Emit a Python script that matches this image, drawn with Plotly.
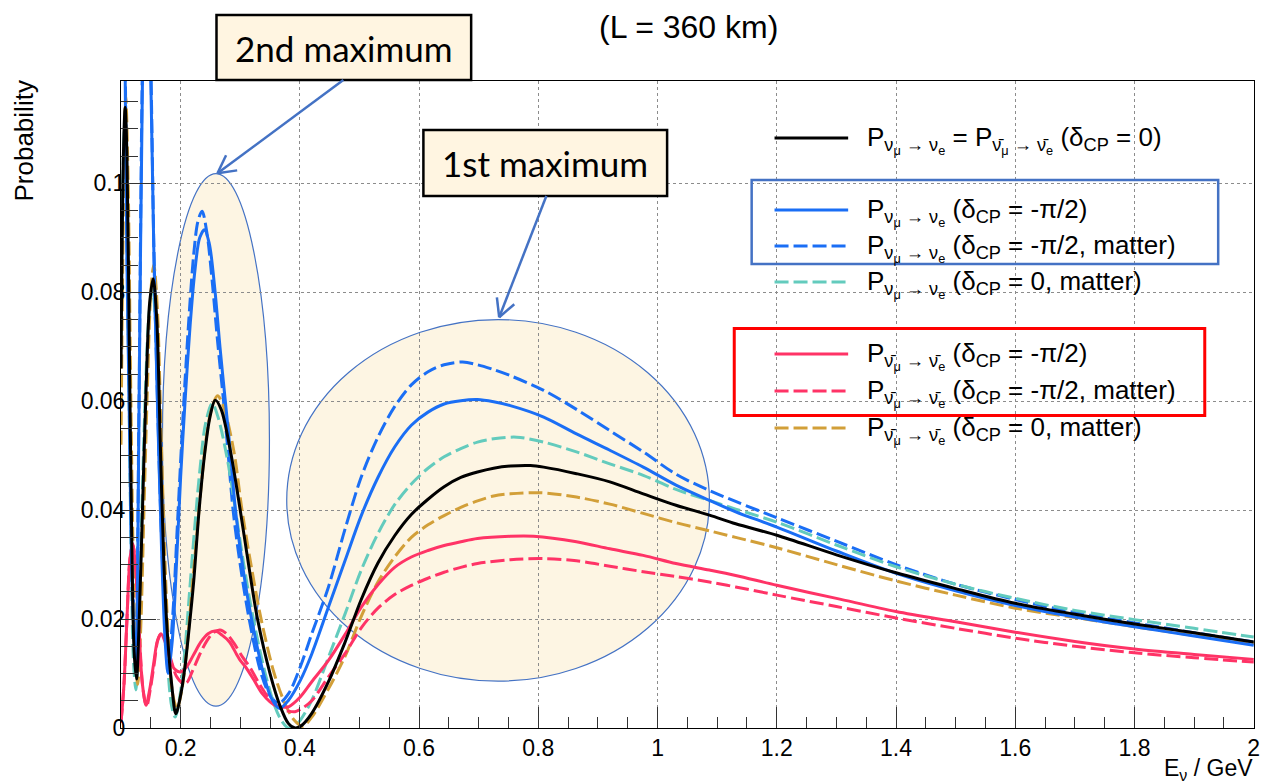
import math
import plotly.graph_objects as go

# ---------------- data ----------------
E_blk = [0.100,0.104,0.107,0.110,0.114,0.118,0.122,0.126,0.130,0.136,0.142,0.148,0.154,0.160,0.166,0.172,0.178,0.185,0.192,0.200,0.207,0.214,0.222,0.231,0.240,0.249,0.258,0.268,0.285,0.300,0.314,0.329,0.350,0.367,0.381,0.392,0.401,0.420,0.448,0.476,0.503,0.531,0.559,0.587,0.615,0.642,0.670,0.698,0.725,0.753,0.787,0.809,0.864,0.920,0.976,1.031,1.087,1.131,1.2,1.3,1.4,1.5,1.6,1.7,1.8,1.9,2.0]
P_blk = [0.066,0.105,0.114,0.105,0.070,0.035,0.014,0.009,0.018,0.040,0.062,0.078,0.0825,0.075,0.052,0.030,0.017,0.008,0.0026,0.006,0.011,0.018,0.027,0.040,0.050,0.057,0.0602,0.0585,0.050,0.040,0.030,0.020,0.010,0.004,0.0008,0.0,0.0003,0.0027,0.0085,0.0158,0.0236,0.0303,0.0353,0.0392,0.0420,0.0443,0.0460,0.0470,0.0477,0.0481,0.0482,0.0479,0.0467,0.0452,0.0430,0.0409,0.0391,0.0375,0.0354,0.0318,0.0285,0.0256,0.0229,0.0209,0.0191,0.0175,0.0158]

E_bls = [0.100,0.104,0.107,0.110,0.114,0.119,0.125,0.130,0.136,0.143,0.150,0.155,0.161,0.168,0.174,0.179,0.186,0.193,0.200,0.208,0.216,0.224,0.232,0.240,0.248,0.257,0.266,0.275,0.284,0.292,0.305,0.319,0.339,0.352,0.366,0.381,0.4006,0.420,0.448,0.476,0.503,0.531,0.559,0.587,0.615,0.642,0.670,0.698,0.725,0.753,0.809,0.864,0.920,0.976,1.031,1.087,1.131,1.2,1.3,1.4,1.5,1.6,1.7,1.8,1.9,2.0]
P_bls = [0.200,0.170,0.120,0.085,0.057,0.025,0.012,0.055,0.119,0.150,0.119,0.088,0.060,0.033,0.016,0.010,0.016,0.030,0.046,0.061,0.074,0.084,0.090,0.0915,0.089,0.081,0.070,0.060,0.050,0.040,0.029,0.020,0.010,0.0055,0.0036,0.0051,0.0087,0.0136,0.0222,0.0308,0.0390,0.0460,0.0516,0.0556,0.0580,0.0595,0.0601,0.0603,0.0599,0.0592,0.0571,0.0540,0.0510,0.0479,0.0446,0.0418,0.0397,0.0369,0.0325,0.0284,0.0252,0.0225,0.0204,0.0186,0.0169,0.0152]

E_bld = [0.100,0.104,0.107,0.110,0.114,0.119,0.125,0.130,0.136,0.143,0.150,0.155,0.161,0.168,0.175,0.181,0.187,0.194,0.201,0.207,0.215,0.222,0.229,0.236,0.244,0.253,0.262,0.272,0.280,0.288,0.300,0.315,0.335,0.350,0.3645,0.381,0.4006,0.420,0.448,0.476,0.503,0.531,0.559,0.587,0.615,0.642,0.673,0.698,0.725,0.753,0.809,0.864,0.920,0.976,1.031,1.087,1.131,1.2,1.3,1.4,1.5,1.6,1.7,1.8,1.9,2.0]
P_bld = [0.205,0.175,0.125,0.090,0.060,0.028,0.015,0.058,0.122,0.155,0.122,0.089,0.061,0.035,0.019,0.014,0.021,0.036,0.051,0.063,0.077,0.087,0.093,0.0949,0.091,0.082,0.071,0.060,0.050,0.040,0.030,0.020,0.010,0.0060,0.0045,0.0063,0.0112,0.0173,0.0259,0.0366,0.0461,0.0534,0.0590,0.0630,0.0654,0.0667,0.0672,0.0667,0.0658,0.0647,0.0620,0.0585,0.0546,0.0507,0.0466,0.0436,0.0416,0.0386,0.0343,0.0300,0.0264,0.0236,0.0212,0.0193,0.0175,0.0158]

E_cyn = [0.100,0.103,0.106,0.109,0.113,0.117,0.121,0.125,0.129,0.135,0.141,0.147,0.153,0.159,0.165,0.171,0.178,0.185,0.191,0.199,0.207,0.215,0.223,0.232,0.242,0.253,0.263,0.279,0.292,0.306,0.322,0.342,0.358,0.370,0.381,0.392,0.4006,0.420,0.448,0.476,0.503,0.531,0.559,0.587,0.615,0.642,0.670,0.698,0.725,0.764,0.809,0.864,0.920,0.976,1.031,1.087,1.131,1.2,1.3,1.4,1.5,1.6,1.7,1.8,1.9,2.0]
P_cyn = [0.072,0.100,0.110,0.100,0.065,0.032,0.012,0.007,0.016,0.040,0.062,0.076,0.0805,0.072,0.050,0.028,0.012,0.004,0.0020,0.006,0.014,0.025,0.036,0.047,0.056,0.0596,0.057,0.049,0.040,0.030,0.020,0.010,0.004,0.0012,0.0,0.0004,0.0014,0.0051,0.0130,0.0210,0.0290,0.0357,0.0410,0.0448,0.0477,0.0498,0.0513,0.0525,0.0531,0.0534,0.0525,0.0507,0.0485,0.0464,0.0438,0.0418,0.0402,0.0378,0.0336,0.0296,0.0264,0.0238,0.0216,0.0199,0.0183,0.0167]

E_pks = [0.100,0.105,0.110,0.115,0.1195,0.124,0.130,0.136,0.142,0.148,0.155,0.161,0.167,0.174,0.181,0.190,0.200,0.210,0.222,0.234,0.246,0.258,0.270,0.282,0.294,0.300,0.309,0.323,0.337,0.350,0.361,0.372,0.381,0.4006,0.420,0.448,0.476,0.503,0.531,0.559,0.587,0.615,0.642,0.670,0.698,0.753,0.792,0.864,0.920,0.976,1.031,1.087,1.131,1.2,1.3,1.4,1.5,1.6,1.7,1.8,1.9,2.0]
P_pks = [0.001,0.008,0.020,0.031,0.0339,0.030,0.018,0.008,0.0042,0.007,0.012,0.016,0.0173,0.0158,0.0130,0.0108,0.0103,0.0112,0.0135,0.0158,0.0173,0.0178,0.0170,0.0158,0.0135,0.0124,0.0112,0.0088,0.0063,0.0048,0.0040,0.0038,0.0039,0.0057,0.0085,0.0124,0.0172,0.0222,0.0263,0.0295,0.0314,0.0326,0.0335,0.0342,0.0348,0.0352,0.0352,0.0342,0.0329,0.0317,0.0302,0.0290,0.0280,0.0262,0.0238,0.0214,0.0195,0.0176,0.0159,0.0145,0.0135,0.0126]

E_pkd = [0.100,0.105,0.110,0.115,0.120,0.125,0.131,0.137,0.143,0.149,0.156,0.162,0.169,0.176,0.184,0.193,0.203,0.210,0.220,0.232,0.244,0.255,0.266,0.278,0.290,0.304,0.316,0.331,0.346,0.360,0.372,0.381,0.392,0.4006,0.420,0.448,0.476,0.503,0.531,0.559,0.587,0.615,0.642,0.670,0.698,0.753,0.809,0.864,0.920,0.976,1.031,1.087,1.131,1.2,1.3,1.4,1.5,1.6,1.7,1.8,1.9,2.0]
P_pkd = [0.001,0.008,0.020,0.031,0.0335,0.029,0.017,0.007,0.0040,0.007,0.012,0.0162,0.0175,0.0158,0.0125,0.0095,0.0083,0.0083,0.0105,0.0135,0.0160,0.0175,0.0180,0.0172,0.0155,0.0130,0.0112,0.0083,0.0058,0.0042,0.0034,0.0031,0.0030,0.0034,0.0050,0.0094,0.0137,0.0184,0.0220,0.0245,0.0262,0.0275,0.0286,0.0295,0.0302,0.0309,0.0311,0.0307,0.0297,0.0287,0.0278,0.0268,0.0259,0.0244,0.0223,0.0202,0.0183,0.0165,0.0150,0.0138,0.0129,0.0121]

E_gld = [0.100,0.104,0.108,0.112,0.116,0.120,0.124,0.128,0.133,0.139,0.145,0.150,0.155,0.161,0.167,0.173,0.180,0.187,0.194,0.202,0.210,0.218,0.226,0.235,0.244,0.253,0.262,0.272,0.289,0.303,0.318,0.335,0.357,0.375,0.390,0.405,0.420,0.448,0.476,0.503,0.531,0.559,0.587,0.615,0.642,0.670,0.698,0.725,0.753,0.803,0.864,0.920,0.976,1.031,1.087,1.131,1.2,1.3,1.4,1.5,1.6,1.7,1.8,1.9,2.0]
P_gld = [0.052,0.095,0.116,0.100,0.065,0.034,0.014,0.008,0.018,0.042,0.065,0.080,0.085,0.077,0.055,0.033,0.015,0.006,0.0036,0.007,0.014,0.024,0.034,0.045,0.054,0.059,0.061,0.059,0.051,0.040,0.030,0.020,0.010,0.0045,0.0015,0.0003,0.0020,0.0072,0.0132,0.0205,0.0268,0.0314,0.0350,0.0373,0.0390,0.0405,0.0417,0.0426,0.0430,0.0432,0.0424,0.0411,0.0394,0.0377,0.0362,0.0350,0.0331,0.0300,0.0270,0.0244,0.0220,0.0203,0.0186,0.0170,0.0155]

X_TICKS = [0.2, 0.4, 0.6, 0.8, 1.0, 1.2, 1.4, 1.6, 1.8, 2.0]
Y_TICKS = [0, 0.02, 0.04, 0.06, 0.08, 0.1]

NU = "P<sub>ν<sub>μ</sub> → ν<sub>e</sub></sub>"
NUB = "P<sub>ν\u0304<sub>μ</sub> → ν\u0304<sub>e</sub></sub>"
LABELS = [
    NU + " = " + NUB + " (δ<sub>CP</sub> = 0)",
    NU + " (δ<sub>CP</sub> = -π/2)",
    NU + " (δ<sub>CP</sub> = -π/2, matter)",
    NU + " (δ<sub>CP</sub> = 0, matter)",
    NUB + " (δ<sub>CP</sub> = -π/2)",
    NUB + " (δ<sub>CP</sub> = -π/2, matter)",
    NUB + " (δ<sub>CP</sub> = 0, matter)",
]

BLACK, BLUE, CYAN, PINK, GOLD = "#000000", "#1a6ef5", "#63cbbd", "#ff3366", "#d29f38"
DASH = "14px,5px"

series = [
    (E_bld, P_bld, BLUE, DASH),
    (E_cyn, P_cyn, CYAN, DASH),
    (E_gld, P_gld, GOLD, DASH),
    (E_pkd, P_pkd, PINK, DASH),
    (E_pks, P_pks, PINK, "solid"),
    (E_bls, P_bls, BLUE, "solid"),
    (E_blk, P_blk, BLACK, "solid"),
]
legend_style = [(BLACK, "solid"), (BLUE, "solid"), (BLUE, DASH), (CYAN, DASH),
                (PINK, "solid"), (PINK, DASH), (GOLD, DASH)]
legend_y = [138, 210, 246, 282, 354, 391, 428]

for E, P, c, d in series:
    assert len(E) == len(P)

# ---------------- figure ----------------
W, H = 1266, 783
ML, MR, MT, MB = 121, 6, 81, 55
PW, PH = W - ML - MR, H - MT - MB


def px(x):
    return (x - ML) / PW


def py(y):
    return (H - MB - y) / PH


fig = go.Figure()
for E, P, c, d in series:
    fig.add_trace(go.Scatter(x=E, y=P, mode="lines",
                             line=dict(color=c, width=3, dash=d, shape="spline", smoothing=0.9),
                             showlegend=False, hoverinfo="skip"))

shapes = []
# shaded ellipses
for (x0, x1, y0, y1) in [(0.1695, 0.349, 0.0040, 0.1018), (0.378, 1.087, 0.0086, 0.0750)]:
    shapes.append(dict(type="circle", xref="x", yref="y", x0=x0, x1=x1, y0=y0, y1=y1,
                       fillcolor="#fdf5e3", line=dict(color="#4472c4", width=1.2), layer="below"))

# legend boxes
shapes.append(dict(type="rect", xref="paper", yref="paper", x0=px(755), x1=px(1224), y0=py(264), y1=py(180),
                   line=dict(color="#4472c4", width=2.5), fillcolor="rgba(0,0,0,0)", layer="above"))
shapes.append(dict(type="rect", xref="paper", yref="paper", x0=px(737.5), x1=px(1210.5), y0=py(415.5), y1=py(328.6),
                   line=dict(color="#ff0000", width=3), fillcolor="rgba(0,0,0,0)", layer="above"))

# legend samples
for (c, d), yy in zip(legend_style, legend_y):
    shapes.append(dict(type="line", xref="paper", yref="paper", x0=px(778), x1=px(852), y0=py(yy), y1=py(yy),
                       line=dict(color=c, width=3, dash=d), layer="above"))

# annotation boxes
shapes.append(dict(type="rect", xref="paper", yref="paper", x0=px(217), x1=px(473), y0=py(80), y1=py(15),
                   line=dict(color="black", width=2.5), fillcolor="#fff5e1", layer="above"))
shapes.append(dict(type="rect", xref="paper", yref="paper", x0=px(425), x1=px(670), y0=py(196), y1=py(130),
                   line=dict(color="black", width=2.5), fillcolor="#fff5e1", layer="above"))


# arrows (line + open chevron head)
def arrow(x0, y0, x1, y1, length=20, ang=28):
    dx, dy = x1 - x0, y1 - y0
    n = math.hypot(dx, dy)
    ux, uy = dx / n, dy / n
    out = [dict(type="line", xref="paper", yref="paper", x0=px(x0), y0=py(y0), x1=px(x1), y1=py(y1),
                line=dict(color="#4472c4", width=2.5), layer="above")]
    for s in (1, -1):
        a = math.radians(ang) * s
        rx = ux * math.cos(a) - uy * math.sin(a)
        ry = ux * math.sin(a) + uy * math.cos(a)
        out.append(dict(type="line", xref="paper", yref="paper", x0=px(x1), y0=py(y1),
                        x1=px(x1 - length * rx), y1=py(y1 - length * ry),
                        line=dict(color="#4472c4", width=2.5), layer="above"))
    return out


shapes += arrow(344.5, 80, 218, 173.3)
shapes += arrow(548.6, 196, 501.2, 317.3)

annotations = []
annotations.append(dict(text="(L = 360 km)", x=px(692), y=py(27), xref="paper", yref="paper",
                        showarrow=False, xanchor="center", yanchor="middle",
                        font=dict(family="Liberation Sans", size=32, color="black")))
annotations.append(dict(text="2nd maximum", x=px(345), y=py(48), xref="paper", yref="paper",
                        showarrow=False, xanchor="center", yanchor="middle",
                        font=dict(family="Lato", size=35, color="black")))
annotations.append(dict(text="1st maximum", x=px(547), y=py(163), xref="paper", yref="paper",
                        showarrow=False, xanchor="center", yanchor="middle",
                        font=dict(family="Lato", size=35, color="black")))
for lab, yy in zip(LABELS, legend_y):
    annotations.append(dict(text=lab, x=px(869), y=py(yy + 2), xref="paper", yref="paper",
                            showarrow=False, xanchor="left", yanchor="middle", align="left",
                            font=dict(family="Liberation Sans", size=26, color="black")))
annotations.append(dict(text="Probability", x=px(23), y=py(141), xref="paper", yref="paper",
                        showarrow=False, textangle=-90, xanchor="center", yanchor="middle",
                        font=dict(family="Liberation Sans", size=26, color="black")))
annotations.append(dict(text="E<sub>ν</sub> / GeV", x=px(1261), y=py(769.5), xref="paper", yref="paper",
                        showarrow=False, xanchor="right", yanchor="middle",
                        font=dict(family="Liberation Sans", size=23, color="black")))

axis_common = dict(showline=True, linecolor="black", linewidth=1, mirror=True,
                   ticks="inside", tickcolor="#333333", tickwidth=1,
                   showgrid=True, gridcolor="#8c8c8c", griddash="dot", gridwidth=1,
                   zeroline=False, tickfont=dict(family="Liberation Sans", size=23, color="black"))

fig.update_layout(
    width=W, height=H,
    margin=dict(l=ML, r=MR, t=MT, b=MB, pad=0),
    paper_bgcolor="white", plot_bgcolor="white",
    xaxis=dict(range=[0.1, 2.0005], tickvals=X_TICKS, ticklen=21, ticklabelstandoff=-1,
               ticklabeloverflow="allow",
               minor=dict(dtick=0.05, tick0=0, ticklen=11, ticks="inside", tickcolor="#333333", showgrid=False),
               **axis_common),
    yaxis=dict(range=[0, 0.1188], tickvals=Y_TICKS, ticklen=35, ticklabelstandoff=-10,
               minor=dict(dtick=0.005, tick0=0, ticklen=17, ticks="inside", tickcolor="#333333", showgrid=False),
               **axis_common),
    shapes=shapes,
    annotations=annotations,
)

fig.write_html("out.html", config={"displayModeBar": False},
               post_script="document.body.style.margin='0px';document.body.style.overflow='hidden';")
